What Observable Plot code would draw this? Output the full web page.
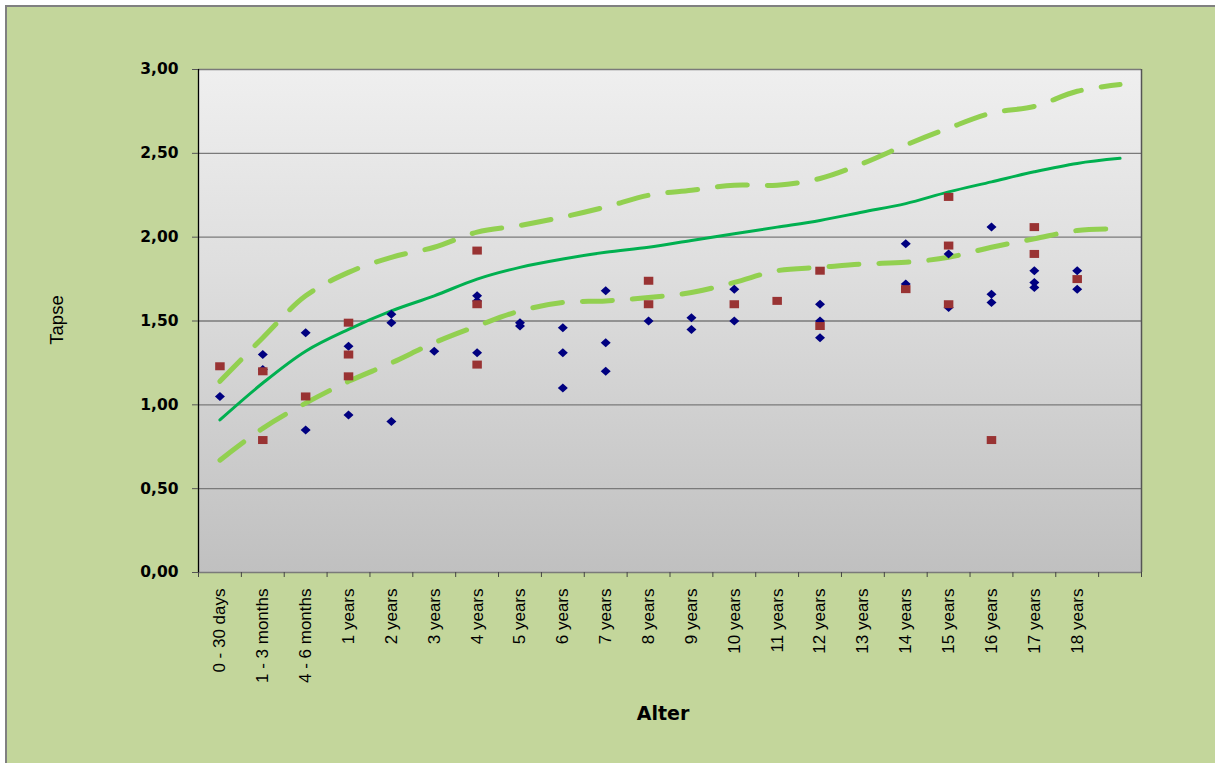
<!DOCTYPE html>
<html><head><meta charset="utf-8">
<script src="https://cdn.jsdelivr.net/npm/d3@7"></script>
<script src="https://cdn.jsdelivr.net/npm/@observablehq/plot@0.6"></script>
<style>
html,body{margin:0;padding:0;background:#fff;overflow:hidden;width:1215px;height:763px;}
#bg{position:absolute;left:5px;top:5px;width:1300px;height:900px;background:#c3d69b;border-left:2.5px solid #808080;border-top:2.5px solid #808080;}
#chart{position:absolute;left:0;top:0;}
</style></head><body><div id="bg"></div><div id="chart"></div>
<script>
// Age categories (last slot is empty)
const categories = ["0 - 30 days","1 - 3 months","4 - 6 months","1 years","2 years","3 years","4 years","5 years","6 years","7 years","8 years","9 years","10 years","11 years","12 years","13 years","14 years","15 years","16 years","17 years","18 years",""];

// Reference curves (one value per category slot)
const meanLine  = [0.91,1.13,1.32,1.45,1.56,1.65,1.75,1.82,1.87,1.91,1.94,1.98,2.02,2.06,2.10,2.15,2.20,2.27,2.33,2.39,2.44,2.47];
const upperLine = [1.14,1.40,1.65,1.79,1.88,1.94,2.03,2.07,2.12,2.18,2.25,2.28,2.31,2.31,2.35,2.44,2.55,2.65,2.74,2.78,2.87,2.91];
const lowerLine = [0.67,0.86,1.01,1.14,1.25,1.37,1.47,1.56,1.61,1.62,1.64,1.67,1.73,1.80,1.82,1.84,1.85,1.88,1.94,1.99,2.04,2.05];

// Measured values, series 1 (blue diamonds)
const seriesBlue = [
  ["0 - 30 days",1.05],
  ["1 - 3 months",1.30],["1 - 3 months",1.21],
  ["4 - 6 months",1.43],["4 - 6 months",0.85],
  ["1 years",1.35],["1 years",0.94],
  ["2 years",1.54],["2 years",1.49],["2 years",0.90],
  ["3 years",1.32],
  ["4 years",1.65],["4 years",1.62],["4 years",1.31],
  ["5 years",1.49],["5 years",1.47],
  ["6 years",1.46],["6 years",1.31],["6 years",1.10],
  ["7 years",1.68],["7 years",1.37],["7 years",1.20],
  ["8 years",1.50],
  ["9 years",1.52],["9 years",1.45],
  ["10 years",1.69],["10 years",1.50],
  ["12 years",1.60],["12 years",1.50],["12 years",1.40],
  ["14 years",1.96],["14 years",1.72],
  ["15 years",1.90],["15 years",1.58],
  ["16 years",2.06],["16 years",1.66],["16 years",1.61],
  ["17 years",1.80],["17 years",1.73],["17 years",1.70],
  ["18 years",1.80],["18 years",1.69]
];

// Measured values, series 2 (red squares)
const seriesRed = [
  ["0 - 30 days",1.23],
  ["1 - 3 months",1.20],["1 - 3 months",0.79],
  ["4 - 6 months",1.05],
  ["1 years",1.49],["1 years",1.30],["1 years",1.17],
  ["4 years",1.92],["4 years",1.60],["4 years",1.24],
  ["8 years",1.74],["8 years",1.60],
  ["10 years",1.60],
  ["11 years",1.62],
  ["12 years",1.80],["12 years",1.47],
  ["14 years",1.69],
  ["15 years",2.24],["15 years",1.95],["15 years",1.60],
  ["16 years",0.79],
  ["17 years",2.06],["17 years",1.90],
  ["18 years",1.75]
];

const yTicks = [0,0.5,1,1.5,2,2.5,3];
const yTickLabel = d => d.toFixed(2).replace(".", ",");

const slot = a => categories.indexOf(a) + 0.5;
const curve = vals => vals.map((v,i) => ({x: i + 0.5, v}));

const diamondSym = {draw(ctx, size){ const r = Math.sqrt(size/Math.PI); ctx.moveTo(0,-r*0.9); ctx.lineTo(r,0); ctx.lineTo(0,r*0.9); ctx.lineTo(-r,0); ctx.closePath(); }};
const squareSym = {draw(ctx, size){ const r = Math.sqrt(size/Math.PI); const w=r*0.95, h=r*0.8; ctx.moveTo(-w,-h); ctx.lineTo(w,-h); ctx.lineTo(w,h); ctx.lineTo(-w,h); ctx.closePath(); }};

const n = categories.length;
const plot = Plot.plot({
  width: 1215, height: 763,
  marginLeft: 198, marginRight: 74, marginTop: 69, marginBottom: 191,
  style: {background: "transparent", color: "#000", fontFamily: "Liberation Sans, Arial, sans-serif"},
  x: {type: "linear", domain: [0, n], axis: null},
  y: {domain: [0, 3], axis: null},
  marks: [
    Plot.frame({fill: "url(#plotbg)", stroke: "none"}),
    Plot.ruleY(yTicks, {stroke: "#7a7a7a", strokeWidth: 1.3}),
    Plot.ruleX([0], {stroke: "#000", strokeWidth: 1.3}),
    Plot.ruleX([n], {stroke: "#555", strokeWidth: 1.5}),
    Plot.axisY(yTicks, {anchor: "left", tickSize: 6, tickPadding: 14, tickFormat: yTickLabel, label: null,
      fontFamily: "DejaVu Sans, Verdana, sans-serif", fontWeight: "bold", fontSize: 15.5, stroke: "#555"}),
    Plot.axisX(d3.range(n + 1), {anchor: "bottom", tickSize: 5, tickFormat: () => "", label: null, stroke: "#444"}),
    Plot.axisX(d3.range(n - 1).map(i => i + 0.5), {anchor: "bottom", tickSize: 0, tickPadding: 16, tickRotate: -90,
      tickFormat: d => categories[Math.floor(d)], label: null, fontSize: 17, fontFamily: "Liberation Sans, Arial, sans-serif"}),
    Plot.line(curve(upperLine), {x: "x", y: "v", stroke: "#92d050", strokeWidth: 5, strokeDasharray: "30,20", strokeLinecap: "round", curve: "catmull-rom"}),
    Plot.line(curve(lowerLine), {x: "x", y: "v", stroke: "#92d050", strokeWidth: 5, strokeDasharray: "30,20", strokeLinecap: "round", curve: "catmull-rom"}),
    Plot.line(curve(meanLine), {x: "x", y: "v", stroke: "#00b050", strokeWidth: 3, curve: "catmull-rom"}),
    Plot.dot(seriesBlue, {x: d => slot(d[0]), y: d => d[1], symbol: diamondSym, r: 5, fill: "#000080", stroke: "none"}),
    Plot.dot(seriesRed, {x: d => slot(d[0]), y: d => d[1], symbol: squareSym, r: 5, fill: "#993333", stroke: "none"}),
    Plot.text(["Tapse"], {frameAnchor: "left", dx: -141, dy: -1, rotate: -90, fontSize: 18.5, fill: "#000",
      fontFamily: "Liberation Sans, Arial, sans-serif", textAnchor: "middle"}),
    Plot.text(["Alter"], {frameAnchor: "bottom", dx: -7, dy: 141, fontSize: 19, fill: "#000", fontWeight: "bold",
      fontFamily: "DejaVu Sans, Verdana, sans-serif", textAnchor: "middle", lineAnchor: "middle"})
  ]
});

const defs = d3.select(plot).insert("defs", ":first-child");
const grad = defs.append("linearGradient").attr("id", "plotbg").attr("x1", 0).attr("y1", 0).attr("x2", 0).attr("y2", 1);
grad.append("stop").attr("offset", "0%").attr("stop-color", "#efefef");
grad.append("stop").attr("offset", "40%").attr("stop-color", "#dedede");
grad.append("stop").attr("offset", "100%").attr("stop-color", "#c0c0c0");

document.getElementById("chart").appendChild(plot);
</script></body></html>
